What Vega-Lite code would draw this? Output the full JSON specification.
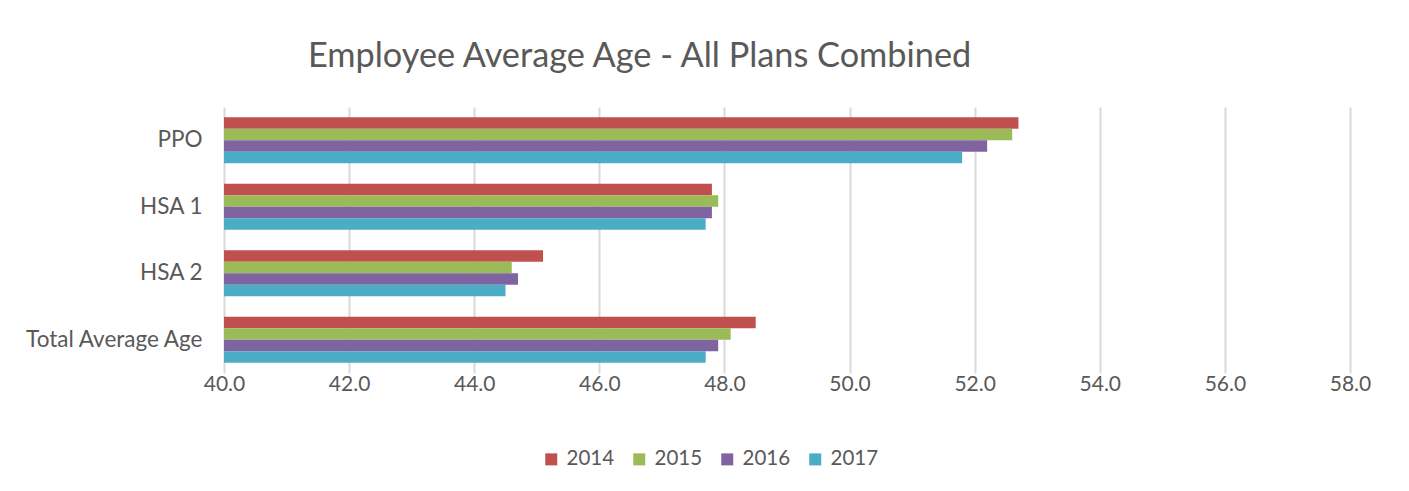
{
  "$schema": "https://vega.github.io/schema/vega-lite/v6.json",
  "autosize": "none",
  "width": 1126,
  "height": 266,
  "padding": {"left": 224, "top": 107, "right": 59, "bottom": 118},
  "background": "white",
  "title": {
    "text": "Employee Average Age - All Plans Combined",
    "anchor": "start",
    "frame": "group",
    "dx": 84,
    "offset": 33,
    "fontSize": 34.3,
    "font": "Lato",
    "fontWeight": "normal",
    "color": "#595959"
  },
  "data": {
    "values": [
      {"plan": "PPO", "year": "2014", "age": 52.7},
      {"plan": "PPO", "year": "2015", "age": 52.6},
      {"plan": "PPO", "year": "2016", "age": 52.2},
      {"plan": "PPO", "year": "2017", "age": 51.8},
      {"plan": "HSA 1", "year": "2014", "age": 47.8},
      {"plan": "HSA 1", "year": "2015", "age": 47.9},
      {"plan": "HSA 1", "year": "2016", "age": 47.8},
      {"plan": "HSA 1", "year": "2017", "age": 47.7},
      {"plan": "HSA 2", "year": "2014", "age": 45.1},
      {"plan": "HSA 2", "year": "2015", "age": 44.6},
      {"plan": "HSA 2", "year": "2016", "age": 44.7},
      {"plan": "HSA 2", "year": "2017", "age": 44.5},
      {"plan": "Total Average Age", "year": "2014", "age": 48.5},
      {"plan": "Total Average Age", "year": "2015", "age": 48.1},
      {"plan": "Total Average Age", "year": "2016", "age": 47.9},
      {"plan": "Total Average Age", "year": "2017", "age": 47.7}
    ]
  },
  "mark": {"type": "bar", "clip": true},
  "encoding": {
    "y": {
      "field": "plan",
      "type": "nominal",
      "sort": ["PPO", "HSA 1", "HSA 2", "Total Average Age"],
      "scale": {"paddingInner": 0.31, "paddingOuter": 0.155},
      "axis": {
        "title": null,
        "domain": false,
        "ticks": false,
        "labelPadding": 22,
        "labelFontSize": 22.5,
        "labelFont": "Lato",
        "labelColor": "#595959"
      }
    },
    "yOffset": {
      "field": "year",
      "type": "nominal",
      "sort": ["2014", "2015", "2016", "2017"]
    },
    "x": {
      "field": "age",
      "type": "quantitative",
      "scale": {"domain": [40, 58], "zero": false, "nice": false},
      "axis": {
        "title": null,
        "values": [40, 42, 44, 46, 48, 50, 52, 54, 56, 58],
        "format": ".1f",
        "domain": false,
        "ticks": false,
        "grid": true,
        "gridColor": "#d9d9d9",
        "gridWidth": 2,
        "labelFlush": false,
        "labelPadding": 0,
        "labelFontSize": 21,
        "labelFont": "Lato",
        "labelColor": "#595959"
      }
    },
    "color": {
      "field": "year",
      "type": "nominal",
      "scale": {
        "domain": ["2014", "2015", "2016", "2017"],
        "range": ["#C0504D", "#9BBB59", "#8064A2", "#4BACC6"]
      },
      "legend": {
        "title": null,
        "orient": "none",
        "direction": "horizontal",
        "legendX": 317,
        "legendY": 342,
        "symbolType": "square",
        "symbolSize": 144,
        "symbolStrokeWidth": 0,
        "labelFontSize": 20.5,
        "labelFont": "Lato",
        "labelColor": "#595959",
        "columnPadding": 14,
        "labelOffset": 5
      }
    }
  },
  "config": {"view": {"stroke": null}}
}
